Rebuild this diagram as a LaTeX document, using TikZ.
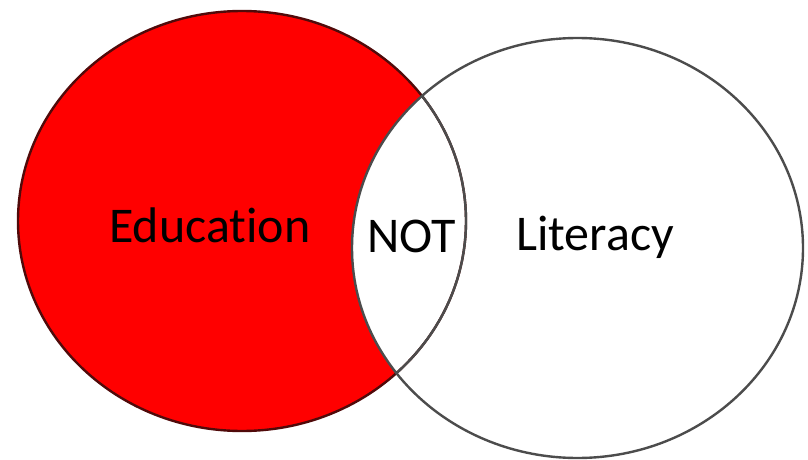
\documentclass[tikz,border=0pt]{standalone}
\usepackage{fontspec}
\setmainfont[Ligatures={NoCommon,NoContextual}]{Carlito}
\definecolor{rimred}{RGB}{80,10,10}
\begin{document}
\begin{tikzpicture}[x=1pt,y=-1pt,
  lbl/.style={inner sep=0pt,anchor=base west,font=\fontsize{50}{60}\selectfont,text=black},
  rim/.style={line width=2.4pt}]
\useasboundingbox (0,0) rectangle (808,460);
\fill[red] (242,221) ellipse [x radius=224pt, y radius=210pt];
\fill[white] (577.5,248) ellipse [x radius=225.5pt, y radius=210pt];
\draw[rim,draw=rimred] (242,221) ellipse [x radius=224pt, y radius=210pt];
\draw[rim,draw=black!70] (577.5,248) ellipse [x radius=225.5pt, y radius=210pt];
\begin{scope}
\clip (577.5,248) ellipse [x radius=225.5pt, y radius=210pt];
\draw[rim,draw=black!70] (242,221) ellipse [x radius=224pt, y radius=210pt];
\end{scope}
\node[lbl] (edu) at (109,242) {Education};
\node[lbl] (not) at (367,252) {NOT};
\node[lbl] (lit) at (516,250) {Literacy};
\end{tikzpicture}
\end{document}
